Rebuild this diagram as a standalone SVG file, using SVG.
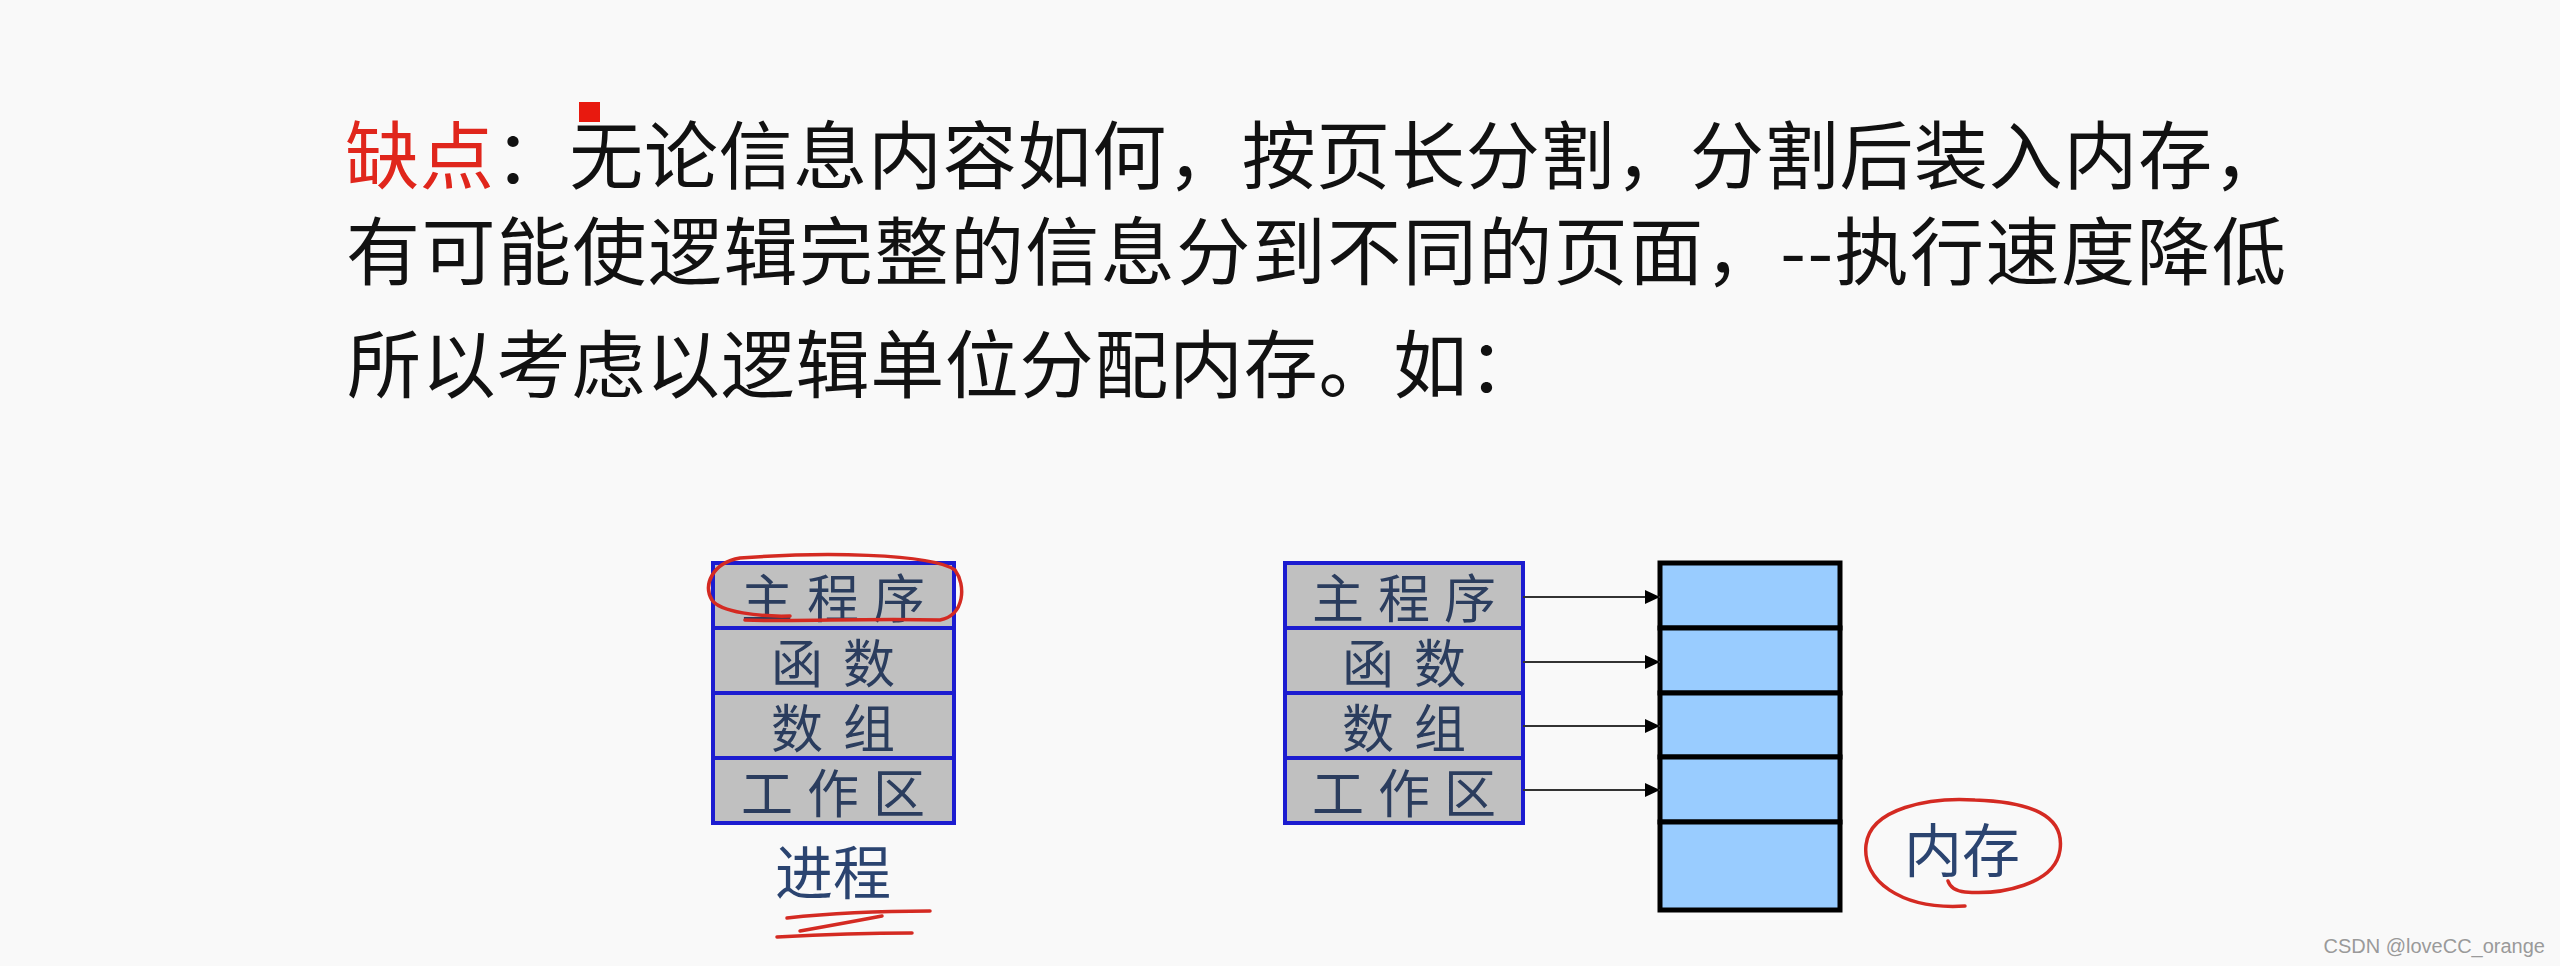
<svg xmlns="http://www.w3.org/2000/svg" width="2560" height="966" viewBox="0 0 2560 966">
<style>
.title{font-family:"Noto Sans CJK SC","Noto Sans",sans-serif;font-size:74px;fill:#111}
.red{fill:#e0261c}
.cell{fill:#c0c0c0;stroke:#1c1cd0;stroke-width:4}
.ctext{font-family:"Noto Sans CJK SC",sans-serif;font-size:52px;fill:#2b3d5e}
.mem{fill:#99ccff;stroke:#000;stroke-width:5}
.conn{stroke:#333;stroke-width:2;fill:none}
.ink{fill:none;stroke:#d42a22;stroke-width:3.5;stroke-linecap:round}
.hand{font-family:"Noto Sans CJK SC",sans-serif;fill:#2b4470}
</style>
<defs>
<marker id="ah" markerWidth="16" markerHeight="14" refX="15" refY="7" orient="auto" markerUnits="userSpaceOnUse">
<path d="M0,0 L15,7 L0,14 Z" fill="#000"/>
</marker>
</defs>
<rect width="2560" height="966" fill="#f9f9f9"/>

<g id="title">
<text class="title" x="345" y="183" textLength="1942" lengthAdjust="spacing"><tspan class="red">缺点</tspan>：无论信息内容如何，按页长分割，分割后装入内存，</text>
<text class="title" x="346" y="279" textLength="1940" lengthAdjust="spacing">有可能使逻辑完整的信息分到不同的页面，--执行速度降低</text>
<text class="title" x="347" y="392" textLength="1195" lengthAdjust="spacing">所以考虑以逻辑单位分配内存。如：</text>
<rect x="579" y="102" width="21" height="20" fill="#e8190f"/>
</g>

<g id="process">
<rect class="cell" x="713" y="563" width="241" height="65"/>
<rect class="cell" x="713" y="628" width="241" height="65"/>
<rect class="cell" x="713" y="693" width="241" height="65"/>
<rect class="cell" x="713" y="758" width="241" height="65"/>
<text class="ctext" x="741" y="618" textLength="184" lengthAdjust="spacing">主程序</text>
<text class="ctext" x="771" y="683" textLength="124" lengthAdjust="spacing">函数</text>
<text class="ctext" x="771" y="748" textLength="124" lengthAdjust="spacing">数组</text>
<text class="ctext" x="741" y="813" textLength="184" lengthAdjust="spacing">工作区</text>
</g>

<g id="process-label">
<text class="hand" x="833" y="894" font-size="58" text-anchor="middle">进程</text>
<path class="ink" d="M787 918 Q850 911 930 911"/>
<path class="ink" d="M777 937 Q850 933 912 933"/>
<path class="ink" d="M800 931 Q845 923 882 916"/>
</g>

<g id="highlight-main">
<path class="ink" d="M745 620 C800 622 860 618 940 620 C965 615 966 585 955 570 C930 553 820 552 740 558 C712 563 703 585 712 600 C720 612 760 617 790 616"/>
</g>

<g id="segments">
<rect class="cell" x="1285" y="563" width="238" height="65"/>
<rect class="cell" x="1285" y="628" width="238" height="65"/>
<rect class="cell" x="1285" y="693" width="238" height="65"/>
<rect class="cell" x="1285" y="758" width="238" height="65"/>
<text class="ctext" x="1312" y="618" textLength="184" lengthAdjust="spacing">主程序</text>
<text class="ctext" x="1342" y="683" textLength="124" lengthAdjust="spacing">函数</text>
<text class="ctext" x="1342" y="748" textLength="124" lengthAdjust="spacing">数组</text>
<text class="ctext" x="1312" y="813" textLength="184" lengthAdjust="spacing">工作区</text>
</g>

<g id="memory">
<rect class="mem" x="1660" y="563" width="180" height="65"/>
<rect class="mem" x="1660" y="628" width="180" height="65"/>
<rect class="mem" x="1660" y="693" width="180" height="64"/>
<rect class="mem" x="1660" y="757" width="180" height="65"/>
<rect class="mem" x="1660" y="822" width="180" height="88"/>
</g>

<g id="memory-label">
<text class="hand" x="1962" y="872" font-size="58" text-anchor="middle">内存</text>
<path class="ink" d="M1965 906 C1900 910 1862 880 1866 845 C1870 808 1930 797 1975 800 C2030 802 2065 815 2060 850 C2055 885 2000 895 1965 892 C1955 891 1950 887 1948 881"/>
</g>

<g id="connectors">
<line class="conn" x1="1523" y1="597" x2="1660" y2="597" marker-end="url(#ah)"/>
<line class="conn" x1="1523" y1="662" x2="1660" y2="662" marker-end="url(#ah)"/>
<line class="conn" x1="1523" y1="726" x2="1660" y2="726" marker-end="url(#ah)"/>
<line class="conn" x1="1523" y1="790" x2="1660" y2="790" marker-end="url(#ah)"/>
</g>

<text x="2545" y="953" font-family="Liberation Sans, sans-serif" font-size="20" fill="#9a9a9a" text-anchor="end">CSDN @loveCC_orange</text>
</svg>
